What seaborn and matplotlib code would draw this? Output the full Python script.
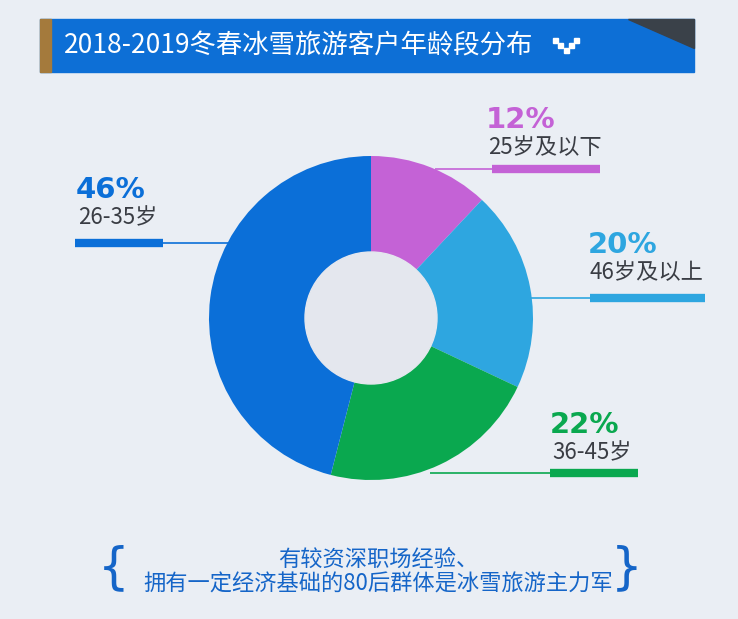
import matplotlib
matplotlib.use("Agg")
import matplotlib.pyplot as plt
import seaborn as sns
from matplotlib.patches import Rectangle, Polygon, Circle

# data
age_groups = ["25岁及以下", "46岁及以上", "36-45岁", "26-35岁"]
shares = [12, 20, 22, 46]
colors = ["#c462d6", "#2ea6e0", "#0aa84f", "#0b6fd8"]

title = "2018-2019冬春冰雪旅游客户年龄段分布"
note_lines = ["有较资深职场经验、", "拥有一定经济基础的80后群体是冰雪旅游主力军"]

sns.set_theme(style="white")
plt.rcParams["font.family"] = ["Noto Sans CJK SC", "DejaVu Sans"]

bg = "#eaeef4"
fig = plt.figure(figsize=(7.38, 6.19), dpi=100)
fig.patch.set_facecolor(bg)
ax = fig.add_axes([0, 0, 1, 1])
ax.set_facecolor(bg)

# title bar
ax.add_patch(Rectangle((40, 19), 654, 53, color="#0d6fd6", zorder=1))
ax.add_patch(Rectangle((40, 19), 11, 53, color="#a47a3c", zorder=2))
ax.add_patch(Polygon([[628, 19], [694, 19], [694, 48]], color="#3a4149", zorder=2))
ax.text(64, 46, title, color="white", fontsize=19, va="center", ha="left", zorder=3)
# small pixel "v" icon
for px, py in [(553, 38), (558, 43), (564, 48), (569, 43), (574, 38)]:
    ax.add_patch(Rectangle((px, py), 5, 5, color="white", zorder=3))

# donut (y axis is flipped, so counterclock in data = clockwise on screen)
cx, cy = 371, 318
ax.pie(shares, colors=colors, startangle=-90, counterclock=True,
       center=(cx, cy), radius=162, frame=True,
       wedgeprops=dict(linewidth=0))
ax.add_patch(Circle((cx, cy), 66, color="#e4e7ee", zorder=5))
ax.set_xlim(0, 738)
ax.set_ylim(619, 0)
ax.axis("off")

# labels: (text x, pct y, thin line start, thick start, thick end, line y)
label_pos = [
    (488, 120, 435, 492, 600, 169),
    (590, 245, 528, 590, 705, 298),
    (552, 425, 430, 550, 638, 473),
    (78, 190, 230, 163, 75, 243),
]
for (x, y, x_thin, x0, x1, ly), grp, s, c in zip(label_pos, age_groups, shares, colors):
    ax.text(x - 2, y, f"{s}%", color=c, fontsize=21, fontweight="heavy",
            va="center", ha="left", family="DejaVu Sans")
    ax.text(x, y + 28, grp, color="#3a3d44", fontsize=16, va="center", ha="left")
    ax.plot([x_thin, x0], [ly, ly], color=c, lw=1.2, solid_capstyle="butt", zorder=0.5)
    ax.plot([x0, x1], [ly, ly], color=c, lw=6, solid_capstyle="butt")

# bottom note
note_color = "#1565c8"
ax.text(378, 559, note_lines[0], color=note_color, fontsize=16, ha="center", va="center")
ax.text(378, 584, note_lines[1], color=note_color, fontsize=16, ha="center", va="center")
ax.text(114, 568, "{", color=note_color, fontsize=36, ha="center", va="center", family="DejaVu Sans")
ax.text(627, 568, "}", color=note_color, fontsize=36, ha="center", va="center", family="DejaVu Sans")

fig.savefig("out.png", dpi=100, facecolor=fig.get_facecolor())
